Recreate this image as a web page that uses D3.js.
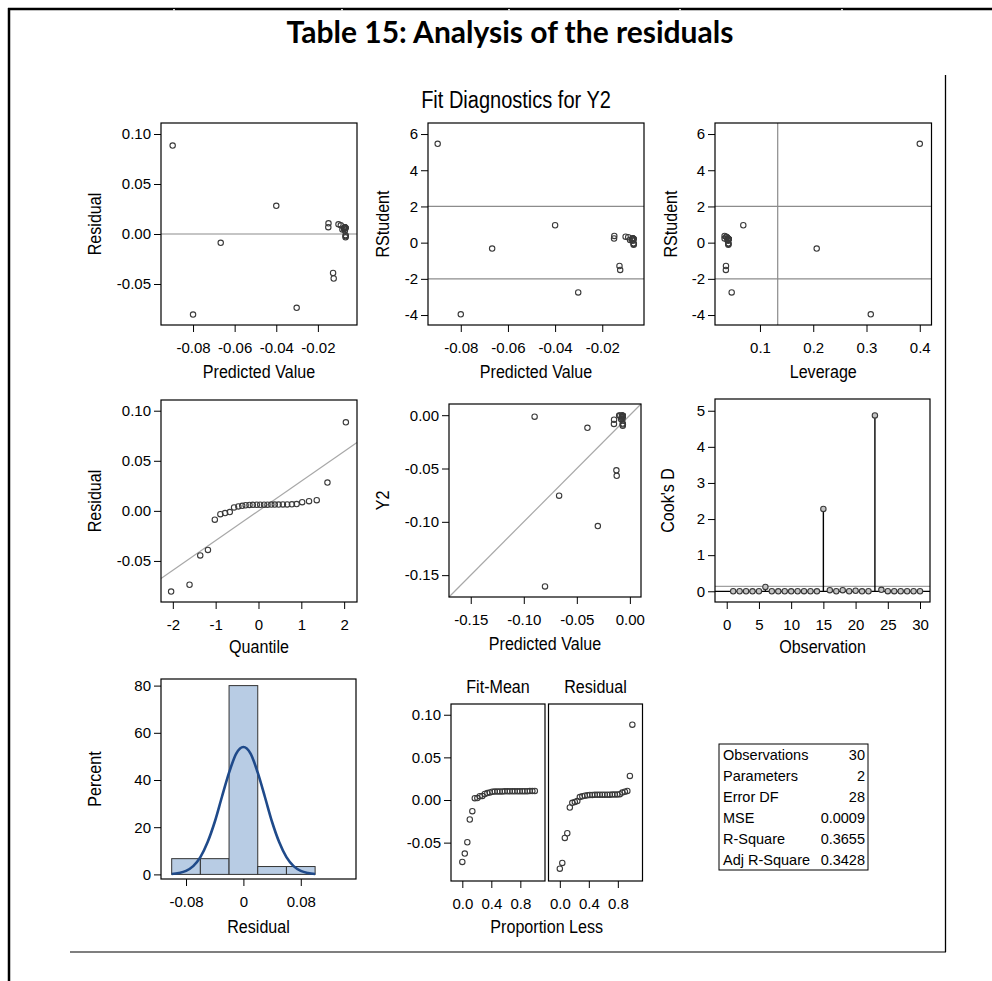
<!DOCTYPE html>
<html>
<head>
<meta charset="utf-8">
<script src="https://cdn.jsdelivr.net/npm/d3@7"></script>
<style>
  body { margin: 0; background: #fff; }
  svg text { font-family: "Liberation Sans", Arial, sans-serif; fill: #000; }
  .tick text { font-size: 15px; }
  .lab { font-size: 18.5px; }
  .stat { font-size: 14.5px; }
</style>
</head>
<body>
<div id="chart"></div>
<script>
const observation = [1,2,3,4,5,6,7,8,9,10,11,12,13,14,15,16,17,18,19,20,21,22,23,24,25,26,27,28,29,30];
const predicted = [-0.0068,-0.0070,-0.0074,-0.0067,-0.0069,-0.0302,-0.0071,-0.0082,-0.0150,-0.0066,
  -0.0069,-0.0101,-0.0072,-0.0070,-0.0800,-0.0400,-0.0068,-0.0127,-0.0070,-0.0667,
  -0.0067,-0.0071,-0.0898,-0.0124,-0.0149,-0.0090,-0.0069,-0.0072,-0.0068,-0.0070];
const residual = [0.0060,0.0061,0.0050,-0.0033,0.0062,-0.0738,0.0063,0.0044,0.0068,-0.0022,
  0.0064,0.0097,0.0061,0.0034,-0.0806,0.0282,0.0062,-0.0390,0.0063,-0.0088,
  -0.0012,0.0056,0.0884,-0.0445,0.0107,0.0087,0.0059,0.0064,0.0063,0.0065];
const y2 = [-0.0008,-0.0009,-0.0024,-0.0100,-0.0007,-0.1040,-0.0008,-0.0038,-0.0082,-0.0088,
  -0.0005,-0.0004,-0.0011,-0.0036,-0.1606,-0.0118,-0.0006,-0.0517,-0.0007,-0.0755,
  -0.0079,-0.0015,-0.0014,-0.0569,-0.0042,-0.0003,-0.0010,-0.0008,-0.0005,-0.0005];
const rstudent = [0.20,0.21,0.17,-0.11,0.21,-2.75,0.21,0.15,0.23,-0.07,
  0.22,0.33,0.21,0.11,-3.96,0.96,0.21,-1.29,0.21,-0.33,
  -0.04,0.19,5.46,-1.51,0.37,0.30,0.20,0.22,0.21,0.22];
const leverage = [0.0406,0.0404,0.0398,0.0407,0.0405,0.0469,0.0403,0.0388,0.0336,0.0409,
  0.0405,0.0367,0.0401,0.0404,0.3080,0.0687,0.0406,0.0362,0.0404,0.2065,
  0.0407,0.0403,0.4000,0.0360,0.0336,0.0378,0.0405,0.0401,0.0406,0.0404];
const cooksD = [0.001,0.001,0.001,0.000,0.001,0.12,0.001,0.000,0.001,0.000,
  0.001,0.002,0.001,0.000,2.28,0.03,0.001,0.03,0.001,0.015,
  0.000,0.001,4.87,0.04,0.002,0.002,0.001,0.001,0.001,0.001];
const quantile = [-2.04,-1.61,-1.36,-1.18,-1.02,-0.89,-0.78,-0.67,-0.57,-0.47,-0.38,-0.30,-0.21,-0.13,-0.04,
  0.04,0.13,0.21,0.30,0.38,0.47,0.57,0.67,0.78,0.89,1.02,1.18,1.36,1.61,2.04];
const proportionLess = [0,0.034,0.069,0.103,0.138,0.172,0.207,0.241,0.276,0.310,0.345,0.379,0.414,0.448,0.483,
  0.517,0.552,0.586,0.621,0.655,0.690,0.724,0.759,0.793,0.828,0.862,0.897,0.931,0.966,1.0];
const qqSlope = 0.0297;
const histEdges = [-0.10,-0.06,-0.02,0.02,0.06,0.10];
const histPercent = [6.67,6.67,80,3.33,3.33];
const normalX = [-0.10,-0.09,-0.08,-0.07,-0.06,-0.05,-0.04,-0.03,-0.02,-0.01,0,0.01,0.02,0.03,0.04,0.05,0.06,0.07,0.08,0.09,0.10];
const normalPct = [0.2,0.6,1.5,3.5,7.3,13.6,22.2,32.8,43.1,51.2,54.0,51.2,43.1,32.8,22.2,13.6,7.3,3.5,1.5,0.6,0.2];
const statLabels = ["Observations","Parameters","Error DF","MSE","R-Square","Adj R-Square"];
const statValues = ["30","2","28","0.0009","0.3655","0.3428"];

let width = 992,
    height = 981;
let narrow = 0.87;

let svg = d3.select("#chart").append("svg")
  .attr("width", width)
  .attr("height", height);

let fix = (f) => (d) => f(d).replace("\u2212", "-");

// page borders
svg.append("line").attr("x1", 9).attr("x2", 9).attr("y1", 8).attr("y2", 981)
  .attr("stroke", "#000").attr("stroke-width", 2.5);
svg.append("line").attr("x1", 8).attr("x2", 992).attr("y1", 9).attr("y2", 9)
  .attr("stroke", "#000").attr("stroke-width", 2.5);
[174, 342, 509, 680, 842].forEach((gx) => {
  svg.append("rect").attr("x", gx - 1).attr("y", 9.2).attr("width", 2).attr("height", 1.2).attr("fill", "#fff");
});
svg.append("line").attr("x1", 945.5).attr("x2", 945.5).attr("y1", 75).attr("y2", 952)
  .attr("stroke", "#000").attr("stroke-width", 1.3);
svg.append("line").attr("x1", 70).attr("x2", 946).attr("y1", 952).attr("y2", 952)
  .attr("stroke", "#000").attr("stroke-width", 1.2);

svg.append("text")
  .attr("x", 510).attr("y", 43)
  .attr("text-anchor", "middle")
  .style("font-family", "Lato, 'Open Sans', sans-serif")
  .style("font-weight", "bold")
  .style("font-size", "30px")
  .text("Table 15: Analysis of the residuals");

// narrow label helper: x, y centre line, optional rotation
function label(parent, t, x, y, rot, size) {
  parent.append("text")
    .attr("class", "lab")
    .attr("transform", `translate(${x},${y})${rot ? " rotate(-90)" : ""} scale(${narrow},1)`)
    .attr("text-anchor", "middle")
    .style("font-size", size ? size + "px" : null)
    .text(t);
}

label(svg, "Fit Diagnostics for Y2", 516, 108, false, 23);

function panel(o) {
  let x = d3.scaleLinear().domain(o.xd).range([o.x0, o.x1]);
  let y = d3.scaleLinear().domain(o.yd).range([o.y1, o.y0]);
  let g = svg.append("g");

  g.append("g")
    .attr("transform", `translate(0,${o.y1})`)
    .call(d3.axisBottom(x).tickValues(o.xt).tickSize(7).tickPadding(10).tickFormat(o.xf))
    .call((a) => a.select(".domain").remove());

  if (o.yt) {
    g.append("g")
      .attr("transform", `translate(${o.x0},0)`)
      .call(d3.axisLeft(y).tickValues(o.yt).tickSize(7).tickPadding(3).tickFormat(o.yf))
      .call((a) => a.select(".domain").remove());
  }
  g.selectAll(".tick text").attr("font-family", null);

  if (o.xl) label(g, o.xl, (o.x0 + o.x1) / 2, o.xly);
  if (o.yl) label(g, o.yl, o.ylx, (o.y0 + o.y1) / 2, true);
  return { g, x, y, o };
}

function frame(p) {
  p.g.append("rect")
    .attr("x", p.o.x0).attr("y", p.o.y0)
    .attr("width", p.o.x1 - p.o.x0).attr("height", p.o.y1 - p.o.y0)
    .attr("fill", "none").attr("stroke", "#000").attr("stroke-width", 1.2);
}

function hline(p, v, color) {
  p.g.append("line")
    .attr("x1", p.o.x0).attr("x2", p.o.x1)
    .attr("y1", p.y(v)).attr("y2", p.y(v))
    .attr("stroke", color || "#8c8c8c").attr("stroke-width", 1.2);
}

function vline(p, v) {
  p.g.append("line")
    .attr("x1", p.x(v)).attr("x2", p.x(v))
    .attr("y1", p.o.y0).attr("y2", p.o.y1)
    .attr("stroke", "#8c8c8c").attr("stroke-width", 1.2);
}

function dots(p, xs, ys, fill) {
  p.g.append("g").selectAll("circle")
    .data(xs)
    .enter().append("circle")
      .attr("cx", (d) => p.x(d))
      .attr("cy", (d, i) => p.y(ys[i]))
      .attr("r", 2.7)
      .attr("fill", fill || "none")
      .attr("stroke", "#3a3a3a")
      .attr("stroke-width", 1.1);
}

let f2 = fix(d3.format(".2f"));
let f1 = fix(d3.format(".1f"));
let fd = fix(d3.format("d"));

// Residual vs predicted
let p1 = panel({ x0: 161, x1: 357, y0: 123, y1: 325, xd: [-0.0954, -0.0012], yd: [-0.091, 0.111],
  xt: [-0.08, -0.06, -0.04, -0.02], xf: f2, yt: [-0.05, 0, 0.05, 0.10], yf: f2,
  xl: "Predicted Value", xly: 378, yl: "Residual", ylx: 101 });
hline(p1, 0);
dots(p1, predicted, residual);
frame(p1);

// RStudent vs predicted
let p2 = panel({ x0: 428, x1: 644, y0: 123, y1: 325, xd: [-0.0939, -0.0023], yd: [-4.55, 6.61],
  xt: [-0.08, -0.06, -0.04, -0.02], xf: f2, yt: [-4, -2, 0, 2, 4, 6], yf: fd,
  xl: "Predicted Value", xly: 378, yl: "RStudent", ylx: 389 });
hline(p2, 2); hline(p2, -2);
dots(p2, predicted, rstudent);
frame(p2);

// RStudent vs leverage
let p3 = panel({ x0: 715, x1: 931.5, y0: 123, y1: 325, xd: [0.0156, 0.422], yd: [-4.55, 6.61],
  xt: [0.1, 0.2, 0.3, 0.4], xf: f1, yt: [-4, -2, 0, 2, 4, 6], yf: fd,
  xl: "Leverage", xly: 378, yl: "RStudent", ylx: 677 });
hline(p3, 2); hline(p3, -2); vline(p3, 0.1333);
dots(p3, leverage, rstudent);
frame(p3);

// QQ plot
let sortedResid = residual.slice().sort(d3.ascending);
let p4 = panel({ x0: 161, x1: 357, y0: 400, y1: 602, xd: [-2.276, 2.30], yd: [-0.091, 0.1107],
  xt: [-2, -1, 0, 1, 2], xf: fd, yt: [-0.05, 0, 0.05, 0.10], yf: f2,
  xl: "Quantile", xly: 653, yl: "Residual", ylx: 101 });
p4.g.append("line")
  .attr("x1", p4.x(-2.276)).attr("y1", p4.y(-2.276 * qqSlope))
  .attr("x2", p4.x(2.30)).attr("y2", p4.y(2.30 * qqSlope))
  .attr("stroke", "#a8a8a8").attr("stroke-width", 1.2);
dots(p4, quantile, sortedResid);
frame(p4);

// Y2 vs predicted
let p5 = panel({ x0: 449, x1: 641, y0: 404, y1: 597, xd: [-0.1705, 0.0105], yd: [-0.1705, 0.0105],
  xt: [-0.15, -0.10, -0.05, 0], xf: f2, yt: [-0.15, -0.10, -0.05, 0], yf: f2,
  xl: "Predicted Value", xly: 650, yl: "Y2", ylx: 389 });
p5.g.append("line")
  .attr("x1", p5.x(-0.1705)).attr("y1", p5.y(-0.1705))
  .attr("x2", p5.x(0.0105)).attr("y2", p5.y(0.0105))
  .attr("stroke", "#a8a8a8").attr("stroke-width", 1.2);
dots(p5, predicted, y2);
frame(p5);

// Cook's D
let p6 = panel({ x0: 715, x1: 930, y0: 399, y1: 602, xd: [-1.82, 31.55], yd: [-0.297, 5.325],
  xt: [0, 5, 10, 15, 20, 25, 30], xf: fd, yt: [0, 1, 2, 3, 4, 5], yf: fd,
  xl: "Observation", xly: 653, yl: "Cook's D", ylx: 674 });
hline(p6, 0.1333, "#a0a0a0");
hline(p6, 0, "#000");
p6.g.append("g").selectAll("line")
  .data(observation)
  .enter().append("line")
    .attr("x1", (d) => p6.x(d)).attr("x2", (d) => p6.x(d))
    .attr("y1", p6.y(0)).attr("y2", (d, i) => p6.y(cooksD[i]))
    .attr("stroke", "#000").attr("stroke-width", 1.4);
dots(p6, observation, cooksD, "#c4c4c4");
frame(p6);

// histogram
let p7 = panel({ x0: 161, x1: 356, y0: 679, y1: 879, xd: [-0.1149, 0.157], yd: [-1.95, 82.8],
  xt: [-0.08, 0, 0.08], xf: (d) => d === 0 ? "0" : f2(d), yt: [0, 20, 40, 60, 80], yf: fd,
  xl: "Residual", xly: 933, yl: "Percent", ylx: 101 });
p7.g.append("g").selectAll("rect")
  .data(histPercent)
  .enter().append("rect")
    .attr("x", (d, i) => p7.x(histEdges[i]))
    .attr("width", (d, i) => p7.x(histEdges[i + 1]) - p7.x(histEdges[i]))
    .attr("y", (d) => p7.y(d))
    .attr("height", (d) => p7.y(0) - p7.y(d))
    .attr("fill", "#b8cce4")
    .attr("stroke", "#333")
    .attr("stroke-width", 1);
p7.g.append("path")
  .datum(normalX)
  .attr("d", d3.line().x((d) => p7.x(d)).y((d, i) => p7.y(normalPct[i])).curve(d3.curveMonotoneX))
  .attr("fill", "none")
  .attr("stroke", "#1f4a8a")
  .attr("stroke-width", 2.6);
frame(p7);

// residual-fit spread
let meanPred = d3.mean(predicted);
let fitMean = predicted.map((d) => d - meanPred).sort(d3.ascending);
let p8a = panel({ x0: 451, x1: 545, y0: 704, y1: 881, xd: [-0.156, 1.14], yd: [-0.095, 0.1126],
  xt: [0, 0.4, 0.8], xf: f1, yt: [-0.05, 0, 0.05, 0.10], yf: f2 });
dots(p8a, proportionLess, fitMean);
frame(p8a);
let p8b = panel({ x0: 548.5, x1: 642.5, y0: 704, y1: 881, xd: [-0.156, 1.14], yd: [-0.095, 0.1126],
  xt: [0, 0.4, 0.8], xf: f1 });
dots(p8b, proportionLess, sortedResid);
frame(p8b);

label(svg, "Fit-Mean", (p8a.o.x0 + p8a.o.x1) / 2, 693);
label(svg, "Residual", (p8b.o.x0 + p8b.o.x1) / 2, 693);
label(svg, "Proportion Less", 546.7, 933);

// fit statistics
let st = svg.append("g");
st.append("rect")
  .attr("x", 719).attr("y", 744).attr("width", 149).attr("height", 126)
  .attr("fill", "none").attr("stroke", "#000").attr("stroke-width", 1);
let rowY = d3.scaleBand().domain(statLabels).range([745, 870]);
st.selectAll(".sl")
  .data(statLabels)
  .enter().append("text")
    .attr("class", "stat")
    .attr("x", 723)
    .attr("y", (d) => rowY(d) + rowY.bandwidth() / 2 + 5)
    .text((d) => d);
st.selectAll(".sv")
  .data(statValues)
  .enter().append("text")
    .attr("class", "stat")
    .attr("x", 865)
    .attr("text-anchor", "end")
    .attr("y", (d, i) => rowY(statLabels[i]) + rowY.bandwidth() / 2 + 5)
    .text((d) => d);
</script>
</body>
</html>
